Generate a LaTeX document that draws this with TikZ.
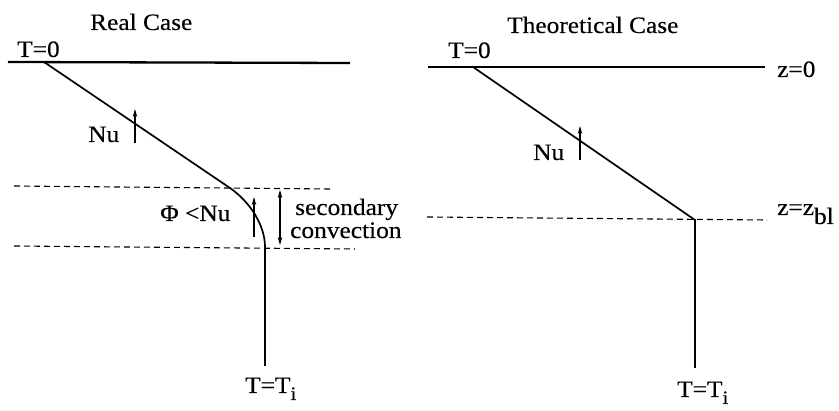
\documentclass[tikz,border=0pt]{standalone}
\usepackage{fontspec}
\setmainfont[FakeStretch=1.08,FakeBold=0.3]{Liberation Serif}
\usetikzlibrary{arrows.meta}
\begin{document}
\begin{tikzpicture}[x=1pt,y=-1pt,
  lbl/.style={inner sep=0pt,anchor=base west,font=\fontsize{23.5}{26}\selectfont},
  prof/.style={line width=1.7pt},
  surf/.style={line width=2.3pt},
  dsh/.style={line width=1.1pt,dash pattern=on 6pt off 4pt},
  flux/.style={line width=1.1pt,-{Stealth[length=8pt,width=4.5pt]}},
  dbl/.style={line width=1.1pt,{Stealth[length=8pt,width=4.5pt]}-{Stealth[length=8pt,width=4.5pt]}}]
\useasboundingbox (0,0) rectangle (839,411);
% ---------- Real case ----------
\node[lbl] (t1) at (90,30) {Real Case};
\node[lbl] (a0) at (17,57) {T=0};
\coordinate (s1a) at (8,62);
\coordinate (s1b) at (350,63);
\draw[surf] (s1a) -- (s1b);
\coordinate (p1) at (44,62);
\coordinate (p2) at (230,188);
\coordinate (p3) at (265,247);
\coordinate (p4) at (265,366);
\draw[prof] (p1) -- (p2) .. controls (250,202) and (265,225) .. (p3) -- (p4);
\coordinate (d1a) at (14,186);
\coordinate (d1b) at (330,189);
\draw[dsh] (d1a) -- (d1b);
\coordinate (d2a) at (14,246);
\coordinate (d2b) at (355,249);
\draw[dsh] (d2a) -- (d2b);
\node[lbl] (nu1) at (88,142) {Nu};
\coordinate (f1a) at (135,143);
\coordinate (f1b) at (135,109);
\draw[flux] (f1a) -- (f1b);
\node[lbl] (phi) at (160,221) {Φ <Nu};
\coordinate (f2a) at (254,237);
\coordinate (f2b) at (254,197);
\draw[flux] (f2a) -- (f2b);
\coordinate (c1a) at (280,190);
\coordinate (c1b) at (280,245);
\draw[dbl] (c1a) -- (c1b);
\node[lbl] (sec) at (295,215) {secondary};
\node[lbl] (conv) at (290,238) {convection};
\node[lbl] (ti1) at (245,393) {T=T\raisebox{-7pt}{\fontsize{19}{19}\selectfont i}};
% ---------- Theoretical case ----------
\node[lbl] (t2) at (507,33) {Theoretical Case};
\node[lbl] (b0) at (448,58) {T=0};
\coordinate (s2a) at (428,67);
\coordinate (s2b) at (765,67);
\draw[surf] (s2a) -- (s2b);
\node[lbl] (z0) at (777,77) {z=0};
\coordinate (q1) at (473,67);
\coordinate (q2) at (695,220);
\coordinate (q3) at (695,368);
\draw[prof] (q1) -- (q2) -- (q3);
\coordinate (d3a) at (427,217);
\coordinate (d3b) at (767,220);
\draw[dsh] (d3a) -- (d3b);
\node[lbl] (zbl) at (777,215) {z=z\raisebox{-9pt}{bl}};
\node[lbl] (nu2) at (533,160) {Nu};
\coordinate (f3a) at (580,160);
\coordinate (f3b) at (580,126);
\draw[flux] (f3a) -- (f3b);
\node[lbl] (ti2) at (677,397) {T=T\raisebox{-7pt}{\fontsize{19}{19}\selectfont i}};
\end{tikzpicture}
\end{document}
